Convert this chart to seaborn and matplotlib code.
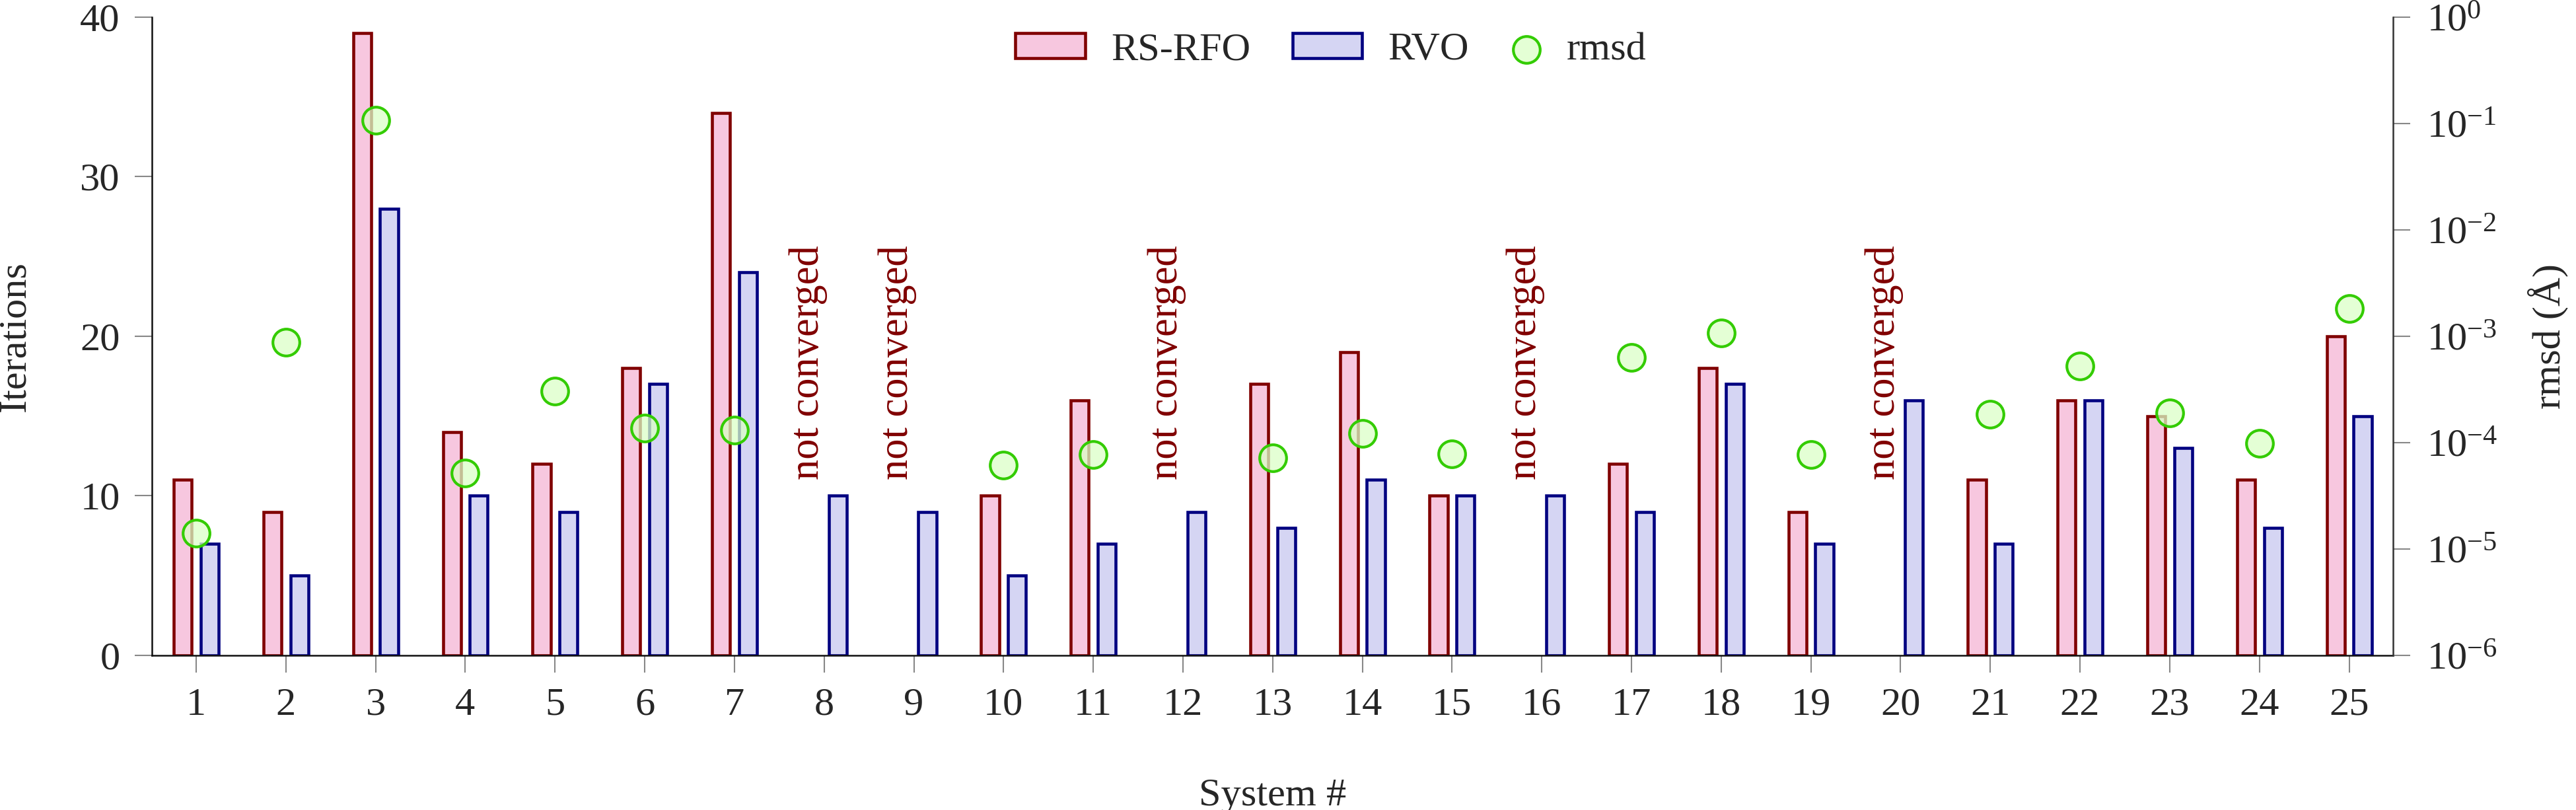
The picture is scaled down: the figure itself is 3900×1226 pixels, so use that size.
import numpy as np
import pandas as pd
import matplotlib
matplotlib.use("Agg")
import matplotlib.pyplot as plt
from matplotlib.ticker import NullLocator, FixedLocator
import seaborn as sns

# ---------------- data ----------------
systems = list(range(1, 26))
rs_rfo = [11, 9, 39, 14, 12, 18, 34, np.nan, np.nan, 10, 16, np.nan, 17, 19, 10,
          np.nan, 12, 18, 9, np.nan, 11, 16, 15, 11, 20]
rvo = [7, 5, 28, 10, 9, 17, 24, 10, 9, 5, 7, 9, 8, 11, 10,
       10, 9, 17, 7, 16, 7, 16, 13, 8, 15]
rmsd = [1.41e-5, 8.75e-4, 1.08e-1, 5.2e-5, 3.03e-4, 1.37e-4, 1.31e-4, np.nan, np.nan,
        6.18e-5, 7.73e-5, np.nan, 7.22e-5, 1.22e-4, 7.81e-5, np.nan, 6.32e-4, 1.08e-3,
        7.73e-5, np.nan, 1.85e-4, 5.22e-4, 1.91e-4, 9.9e-5, 1.81e-3]
not_converged = [8, 9, 12, 16, 20]
nc_label_y = 11
series_names = ["RS-RFO", "RVO"]
rmsd_ticks = [1e-6, 1e-5, 1e-4, 1e-3, 1e-2, 1e-1, 1e0]

# ---------------- style ----------------
sns.set_style("ticks")
plt.rcParams["font.family"] = ["Liberation Serif", "DejaVu Serif"]
plt.rcParams["mathtext.fontset"] = "custom"
plt.rcParams["mathtext.rm"] = "Liberation Serif"
plt.rcParams["mathtext.it"] = "Liberation Serif:italic"
plt.rcParams["axes.unicode_minus"] = True

FS = 14.5
fill_cols = {"RS-RFO": "#FFBFDF", "RVO": "#D0D0F8"}
edge_cols = {"RS-RFO": "#800000", "RVO": "#000080"}

df = pd.DataFrame({
    "System": systems * 2,
    "Iterations": rs_rfo + rvo,
    "Method": ["RS-RFO"] * len(systems) + ["RVO"] * len(systems),
})

fig = plt.figure(figsize=(13, 1226 / 300), dpi=300)
ax = fig.add_axes([0.0591, 0.1909, 0.929 - 0.0591, 0.9788 - 0.1909])

sns.barplot(data=df, x="System", y="Iterations", hue="Method", hue_order=series_names,
            palette=fill_cols, native_scale=True, width=0.6, gap=0.333,
            linewidth=1.1, legend=False, ax=ax, zorder=2)
for cont, name in zip(ax.containers, series_names):
    for p in cont:
        p.set_edgecolor(edge_cols[name])
        p.set_linewidth(1.1)
    cont.set_label(name)

for s in not_converged:
    ax.text(s - 0.18, nc_label_y, "not converged", rotation=90, ha="center",
            va="bottom", color="#800000", fontsize=15)

ax.set_xlim(0.51, 25.49)
ax.set_ylim(0, 40)
ax.set_xticks(systems)
ax.set_xticklabels([str(s) for s in systems])
ax.set_yticks([0, 10, 20, 30, 40])
ax.set_xlabel("System #", fontsize=FS, labelpad=20)
ax.set_ylabel("Iterations", fontsize=FS, labelpad=17)
ax.tick_params(axis="both", direction="out", length=6.2, width=0.5, color="#888888",
               labelsize=FS, pad=5.5)
for side in ["top", "right"]:
    ax.spines[side].set_visible(False)
for side in ["left", "bottom"]:
    ax.spines[side].set_linewidth(0.6)
    ax.spines[side].set_color("#111111")

ax2 = ax.twinx()
sns.scatterplot(x=systems, y=rmsd, ax=ax2, s=95, color="#DDFFCC",
                edgecolor="#33CC00", linewidth=1.0, label="rmsd", legend=False, zorder=5)
for coll in ax2.collections:
    coll.set_facecolor((0.86, 1.0, 0.78, 0.75))
    coll.set_edgecolor("#33CC00")
ax2.set_yscale("log")
ax2.set_ylim(1e-6, 1e0)
ax2.yaxis.set_major_locator(FixedLocator(rmsd_ticks))
ax2.yaxis.set_minor_locator(NullLocator())
ax2.set_ylabel("rmsd (Å)", fontsize=FS, labelpad=11)
ax2.tick_params(axis="y", direction="out", length=6.2, width=0.5, color="#888888",
                labelsize=FS, pad=6)
for side in ["top", "left", "bottom"]:
    ax2.spines[side].set_visible(False)
ax2.spines["right"].set_linewidth(0.6)
ax2.spines["right"].set_color("#333333")

# legend: bars, then the rmsd marker with a narrower handle
leg1 = fig.legend([ax.containers[0], ax.containers[1]], series_names,
                  loc="center left", bbox_to_anchor=(1537 / 3900, 0.938),
                  bbox_transform=fig.transFigure, ncol=2, frameon=False, fontsize=FS,
                  handlelength=1.75, handleheight=0.6, handletextpad=0.65,
                  columnspacing=1.05, borderpad=0, borderaxespad=0)
leg2 = fig.legend([ax2.collections[0]], ["rmsd"],
                  loc="center left", bbox_to_anchor=(2281 / 3900, 0.938),
                  bbox_transform=fig.transFigure, frameon=False, fontsize=FS,
                  handlelength=1.0, handletextpad=0.5, borderpad=0, borderaxespad=0)

fig.savefig("out.png", dpi=300)
